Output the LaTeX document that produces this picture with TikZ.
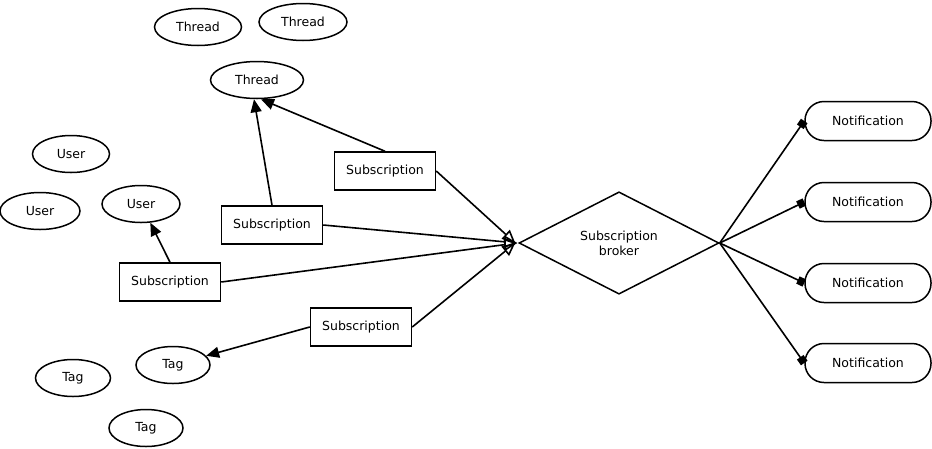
\documentclass[tikz,border=0pt]{standalone}
\usepackage{fontspec}
\setmainfont{DejaVu Sans}
\usetikzlibrary{shapes.geometric,arrows.meta}
\begin{document}
\begin{tikzpicture}[x=1pt,y=-1pt,
  every node/.style={font=\fontsize{12.5}{15}\selectfont, line width=1.5pt, draw, inner sep=0pt},
  ent/.style={ellipse, minimum width=#1pt, minimum height=37pt},
  sub/.style={rectangle, minimum width=101pt, minimum height=38pt},
  note/.style={rectangle, rounded corners=19pt, minimum width=126pt, minimum height=39pt},
  link/.style={line width=1.6pt, -{Triangle[length=13pt,width=11pt]}},
  tobroker/.style={line width=1.6pt, -{Triangle[open,length=13pt,width=12pt]}},
  tonote/.style={line width=1.6pt, -{Square[length=7pt,width=8pt]}}]
\useasboundingbox (0,0) rectangle (932,448);
% entities
\node[ent=87] (t1) at (198,27) {Thread};
\node[ent=88] (t2) at (303,22) {Thread};
\node[ent=93] (t3) at (257,80) {Thread};
\node[ent=77] (u1) at (71,154) {User};
\node[ent=80] (u2) at (40,211) {User};
\node[ent=78] (u3) at (141,204) {User};
\node[ent=75] (g1) at (73,378) {Tag};
\node[ent=74] (g2) at (173,365) {Tag};
\node[ent=74] (g3) at (146,428) {Tag};
% subscriptions
\node[sub] (s1) at (385,171) {Subscription};
\node[sub] (s2) at (272,225) {Subscription};
\node[sub] (s3) at (170,282) {Subscription};
\node[sub] (s4) at (361,327) {Subscription};
% broker
\node[diamond, minimum width=200pt, minimum height=101pt, align=center] (b) at (619,243) {Subscription\\broker};
% notifications
\node[note] (n1) at (868,121) {Notification};
\node[note] (n2) at (868,202) {Notification};
\node[note] (n3) at (868,283) {Notification};
\node[note] (n4) at (868,363) {Notification};
% links
\draw[link] (s1.north) -- ([xshift=4pt]t3.south);
\draw[link] (s2.north) -- ([xshift=-3pt]t3.south);
\draw[link] (s3.north) -- (u3);
\draw[link] (s4.west) -- (g2);
\draw[tobroker] (s1.east) -- ([xshift=-3pt]b.west);
\draw[tobroker] (s2.east) -- ([xshift=-1pt]b.west);
\draw[tobroker] (s3.east) -- ([xshift=-1pt]b.west);
\draw[tobroker] (s4.east) -- ([xshift=-3pt]b.west);
\draw[tonote] (b.east) -- (n1.west);
\draw[tonote] (b.east) -- (n2.west);
\draw[tonote] (b.east) -- (n3.west);
\draw[tonote] (b.east) -- (n4.west);
\end{tikzpicture}
\end{document}
